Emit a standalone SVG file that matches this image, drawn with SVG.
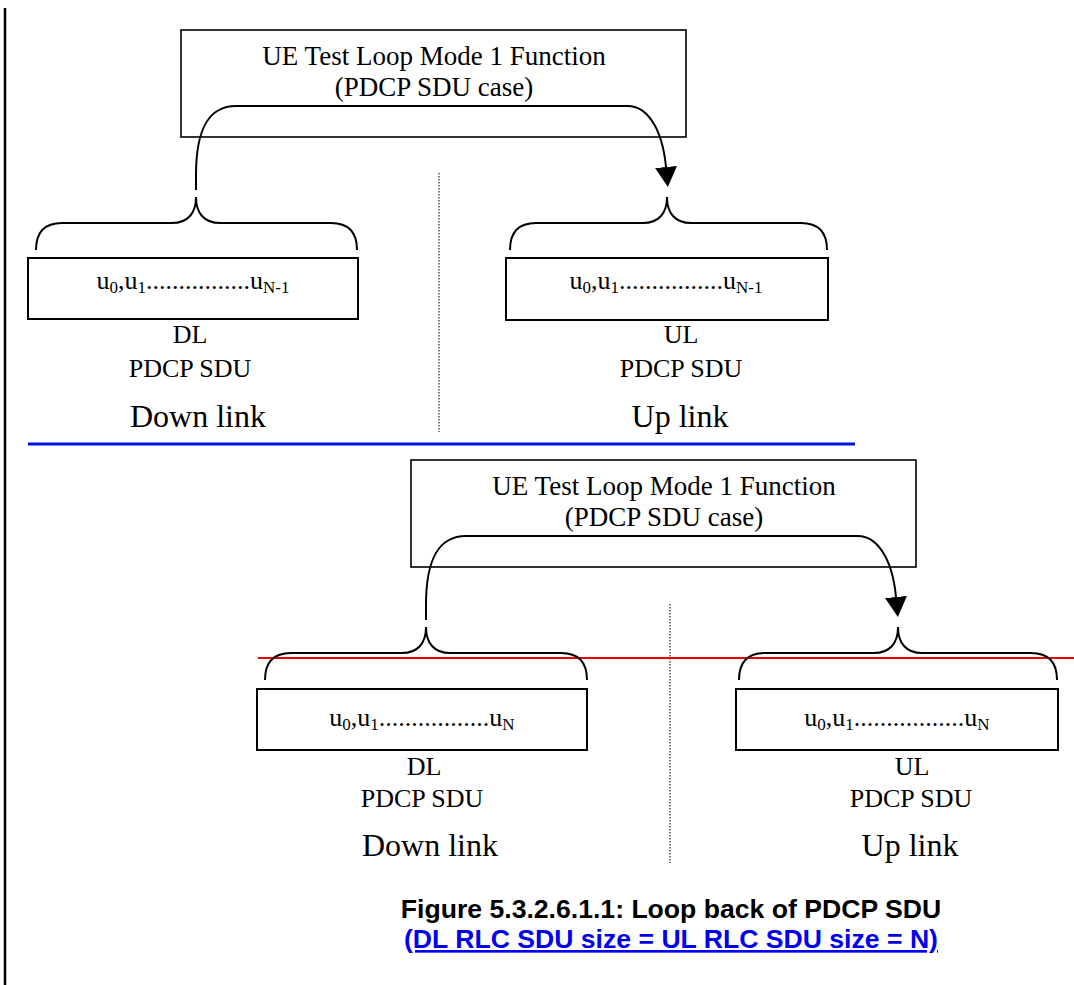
<svg xmlns="http://www.w3.org/2000/svg" width="1074" height="985" viewBox="0 0 1074 985">
<style>
.box{fill:#fff;stroke:#000;stroke-width:1.6}
.pdu{fill:#fff;stroke:#000;stroke-width:2}
.brace{fill:none;stroke:#000;stroke-width:2}
.loop{fill:none;stroke:#000;stroke-width:2}
.sep{stroke:#222;stroke-width:1.2;stroke-dasharray:1.5 1.5}
.t{font-family:"Liberation Serif","Times New Roman",serif;fill:#000;text-anchor:middle}
.f26{font-size:26px}
.f27{font-size:27px}
.f32{font-size:32px}
.sub{font-size:17px}
.cap{font-family:"Liberation Sans",Arial,sans-serif;font-weight:bold;font-size:26.6px;text-anchor:middle}
</style>
<defs>
<marker id="arr" markerUnits="userSpaceOnUse" viewBox="0 0 20 22" refX="0" refY="11" markerWidth="20" markerHeight="22" orient="auto">
<path d="M0,0 L20,11 L0,22 z" fill="#000"/>
</marker>
</defs>
<rect width="1074" height="985" fill="#fff"/>
<line x1="5" y1="8" x2="5" y2="985" stroke="#000" stroke-width="2.5"/>

<!-- separators -->
<line class="sep" x1="439" y1="173" x2="439" y2="432"/>
<line x1="28" y1="444" x2="855" y2="444" stroke="#0010e0" stroke-width="3.2"/>
<line class="sep" x1="670" y1="604" x2="670" y2="863"/>

<!-- top section -->
<g id="func1">
<rect class="box" x="181" y="30" width="505" height="107"/>
<text class="t f27" x="434" y="65">UE Test Loop Mode 1 Function</text>
<text class="t f27" x="434" y="96">(PDCP SDU case)</text>
</g>
<g id="dl1">
<path class="brace" d="M36,250 C36,233 44,223 62,223 L172,223 C188,223 196,213 196,197 C196,213 204,223 220,223 L331,223 C349,223 357,233 357,250"/>
<rect class="pdu" x="28" y="258" width="330" height="61"/>
<text class="t f26" x="193" y="289">u<tspan class="sub" dy="4">0</tspan><tspan dy="-4">,u</tspan><tspan class="sub" dy="4">1</tspan><tspan dy="-4">................u</tspan><tspan class="sub" dy="4">N-1</tspan></text>
<text class="t f26" x="190" y="343">DL</text>
<text class="t f26" x="190" y="377">PDCP SDU</text>
<text class="t f32" x="198" y="427">Down link</text>
</g>
<g id="ul1">
<path class="brace" d="M510,250 C510,233 518,223 536,223 L643,223 C659,223 667,213 667,197 C667,213 675,223 691,223 L801,223 C819,223 827,233 827,250"/>
<rect class="pdu" x="506" y="258" width="322" height="62"/>
<text class="t f26" x="666" y="289">u<tspan class="sub" dy="4">0</tspan><tspan dy="-4">,u</tspan><tspan class="sub" dy="4">1</tspan><tspan dy="-4">................u</tspan><tspan class="sub" dy="4">N-1</tspan></text>
<text class="t f26" x="681" y="343">UL</text>
<text class="t f26" x="681" y="377">PDCP SDU</text>
<text class="t f32" x="680" y="427">Up link</text>
</g>

<!-- bottom section -->
<line x1="258" y1="658" x2="1074" y2="658" stroke="#ee0000" stroke-width="2"/>
<g id="func2">
<rect class="box" x="411" y="460" width="505" height="107"/>
<text class="t f27" x="664" y="495">UE Test Loop Mode 1 Function</text>
<text class="t f27" x="664" y="526">(PDCP SDU case)</text>
</g>
<g id="dl2">
<path class="brace" d="M265,680 C265,663 273,653 291,653 L402,653 C418,653 426,643 426,627 C426,643 434,653 450,653 L561,653 C579,653 587,663 587,680"/>
<rect class="pdu" x="257" y="689" width="330" height="61"/>
<text class="t f26" x="422" y="726">u<tspan class="sub" dy="4">0</tspan><tspan dy="-4">,u</tspan><tspan class="sub" dy="4">1</tspan><tspan dy="-4">.................u</tspan><tspan class="sub" dy="4">N</tspan></text>
<text class="t f26" x="424" y="775">DL</text>
<text class="t f26" x="422" y="807">PDCP SDU</text>
<text class="t f32" x="430" y="856">Down link</text>
</g>
<g id="ul2">
<path class="brace" d="M739,680 C739,663 747,653 765,653 L874,653 C890,653 898,643 898,627 C898,643 906,653 922,653 L1031,653 C1049,653 1057,663 1057,680"/>
<rect class="pdu" x="736" y="689" width="322" height="61"/>
<text class="t f26" x="897" y="726">u<tspan class="sub" dy="4">0</tspan><tspan dy="-4">,u</tspan><tspan class="sub" dy="4">1</tspan><tspan dy="-4">.................u</tspan><tspan class="sub" dy="4">N</tspan></text>
<text class="t f26" x="912" y="775">UL</text>
<text class="t f26" x="911" y="807">PDCP SDU</text>
<text class="t f32" x="910" y="856">Up link</text>
</g>

<!-- connectors -->
<g id="connectors">
<path class="loop" marker-end="url(#arr)" d="M196,190 L196,175 C196,130 208,106 236,106 L628,106 C645,106 662,125 666,167"/>
<path class="loop" marker-end="url(#arr)" d="M426,620 L426,605 C426,560 438,536 466,536 L858,536 C875,536 892,555 896,597"/>
</g>

<!-- caption -->
<text class="cap" x="671" y="918" fill="#000">Figure 5.3.2.6.1.1: Loop back of PDCP SDU</text>
<text class="cap" x="671" y="948" fill="#0000ee" text-decoration="underline">(DL RLC SDU size = UL RLC SDU size = N)</text>
</svg>
